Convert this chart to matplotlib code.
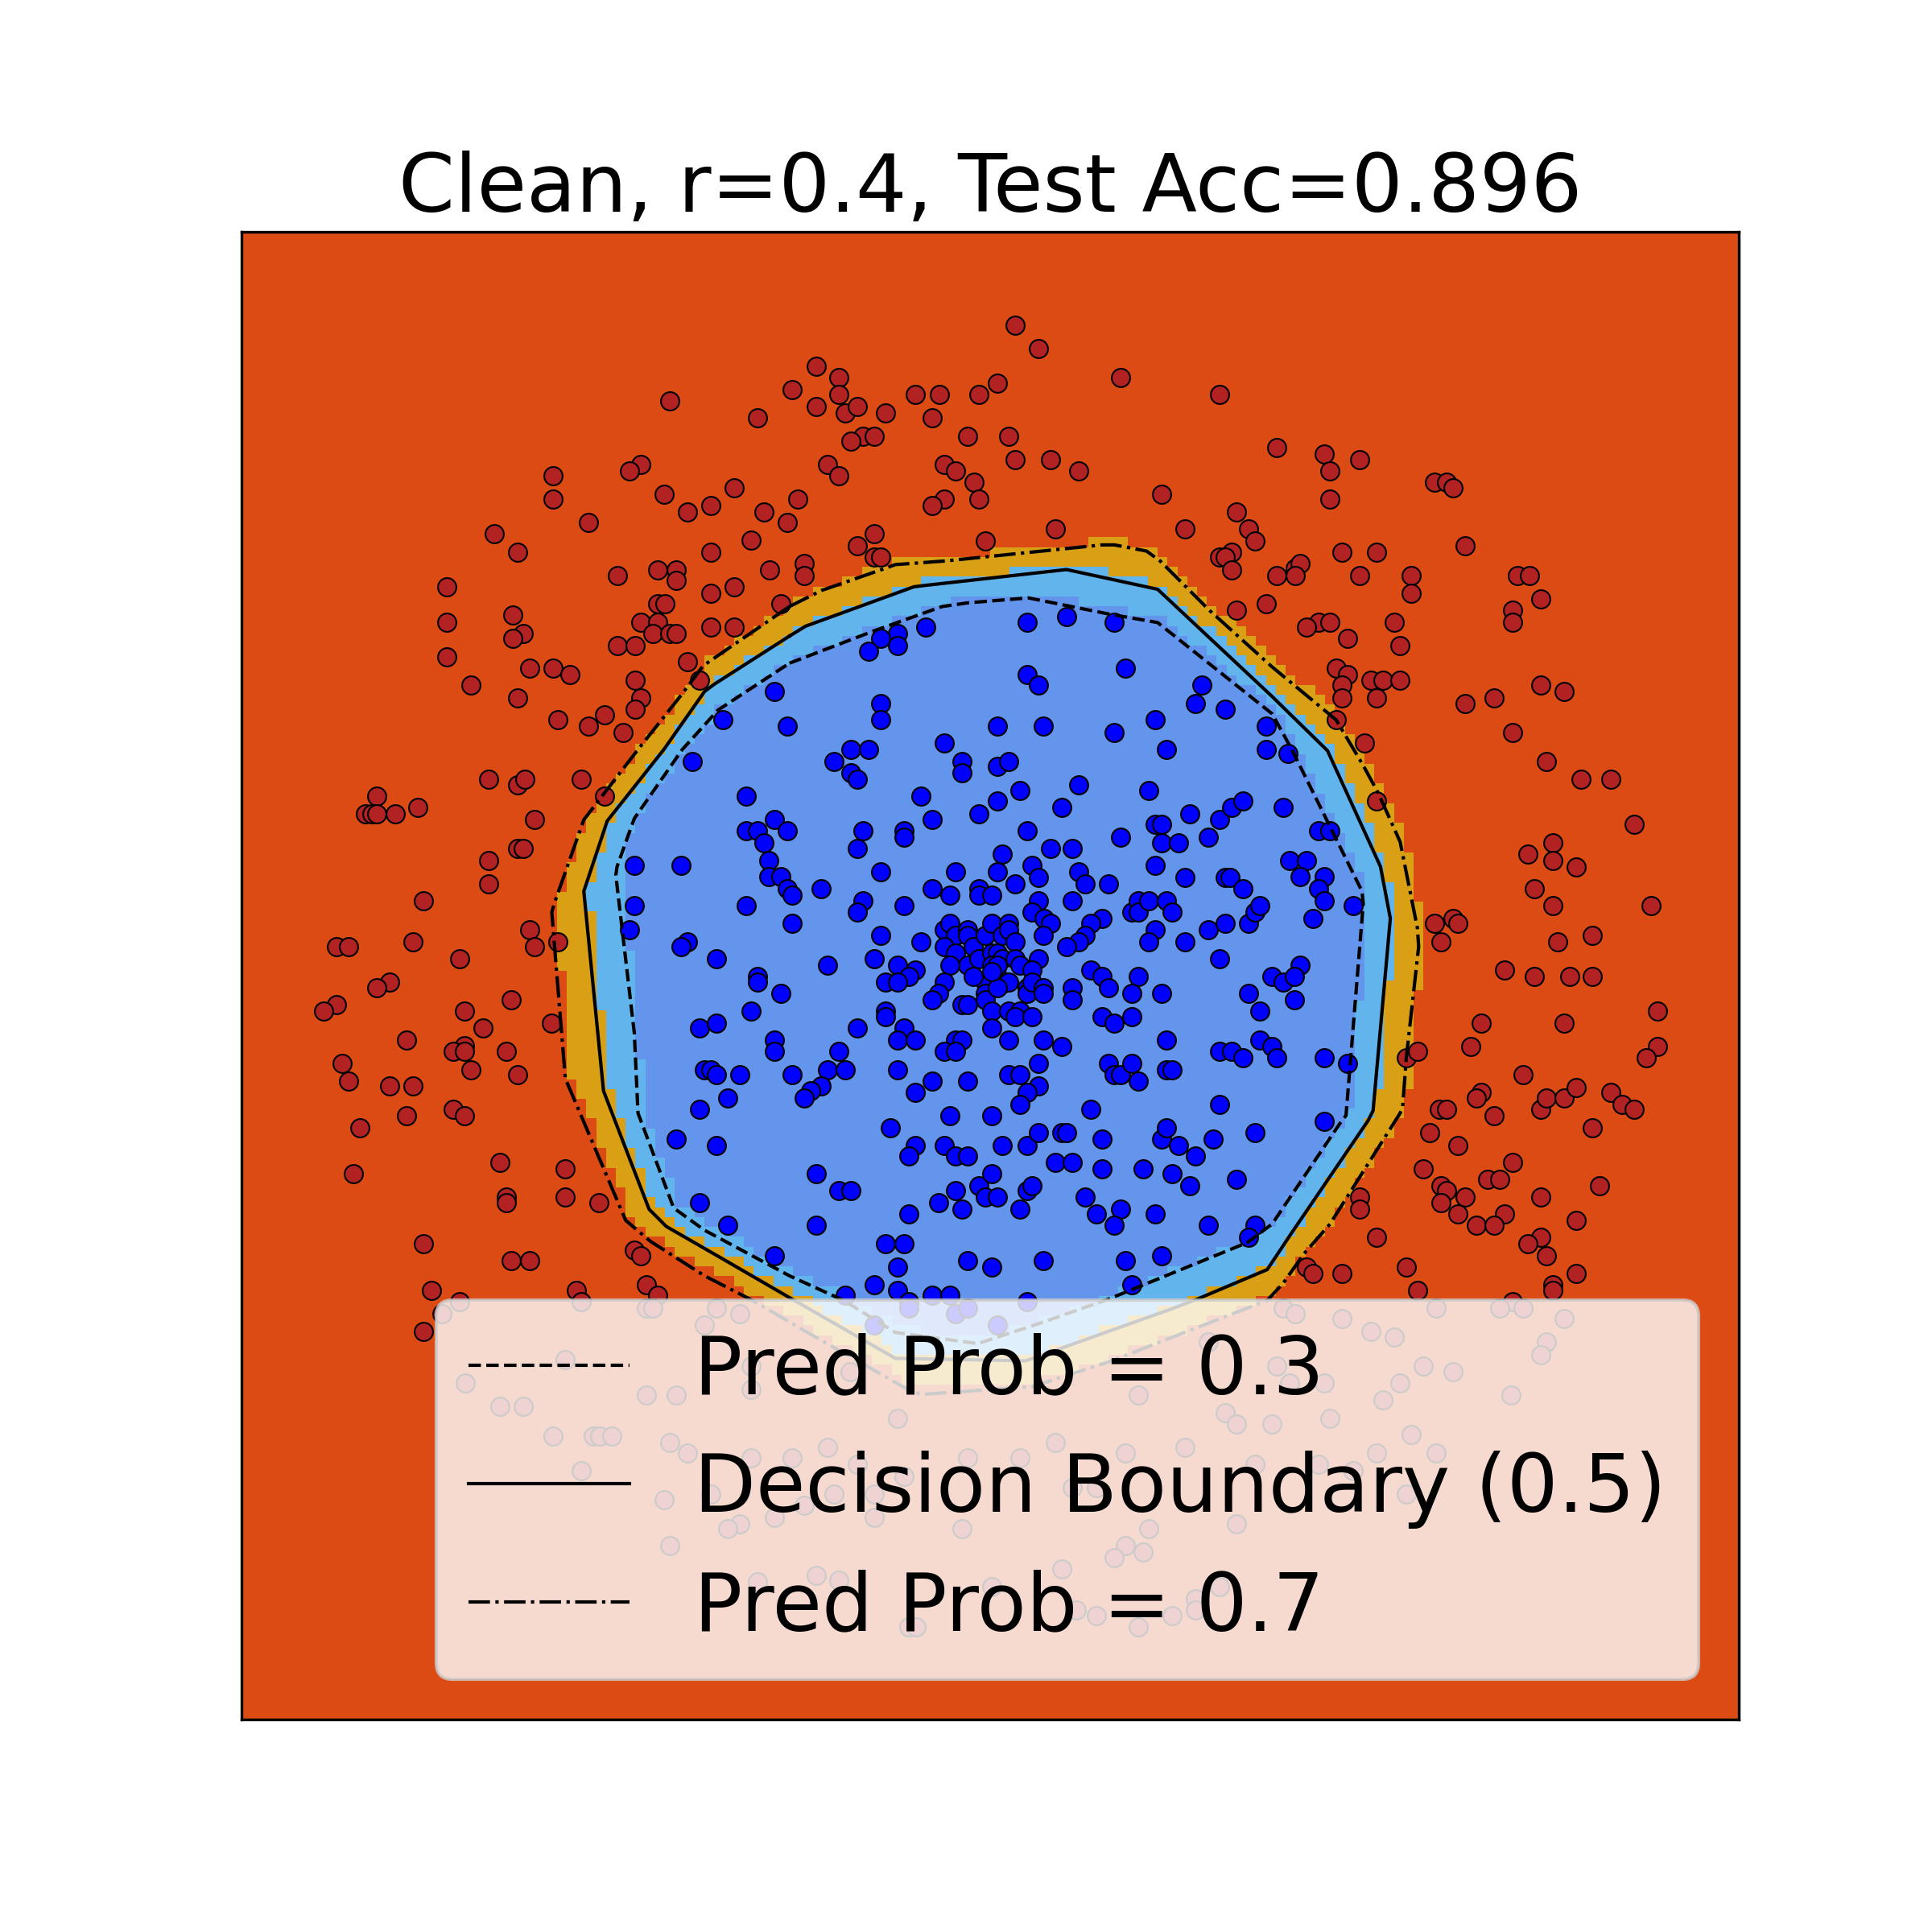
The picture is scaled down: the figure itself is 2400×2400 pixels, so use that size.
import numpy as np
import matplotlib
matplotlib.use('Agg')
from matplotlib import pyplot as plt
from matplotlib.colors import ListedColormap
from matplotlib.path import Path

# data space: x 195..1411 to the right, y 188..1395 downwards
x_range = (195, 1411)
y_range = (188, 1395)

# outer class (label 0)
red_pts = [
    (543, 325), (642, 316), (614, 339), (519, 377), (510, 382), (448, 386), (448, 405), (538, 401),
    (557, 415), (576, 410), (595, 396), (619, 415), (638, 424), (477, 424), (400, 433), (419, 448),
    (576, 448), (609, 438), (624, 462), (500, 467), (533, 462), (548, 462), (548, 471), (576, 481),
    (595, 476), (633, 490), (533, 490), (539, 490), (362, 476), (362, 505), (362, 533), (415, 499),
    (424, 514), (415, 518), (519, 505), (533, 505), (529, 514), (543, 514), (548, 514), (576, 509),
    (595, 509), (500, 524), (515, 524), (557, 537), (567, 552), (429, 542), (448, 542), (462, 547),
    (381, 556), (419, 566), (515, 552), (519, 566), (515, 575), (490, 580), (452, 584), (477, 589),
    (505, 594),
    (823, 264), (842, 283), (662, 297), (680, 306), (680, 320), (662, 330), (685, 335), (695, 330),
    (718, 335), (742, 320), (762, 320), (794, 320), (809, 311), (909, 306), (989, 320), (756, 339),
    (700, 354), (709, 354), (690, 358), (785, 354), (818, 354), (1036, 363), (671, 377), (680, 386),
    (766, 377), (775, 382), (790, 391), (823, 373), (852, 373), (875, 382), (647, 405), (766, 405),
    (756, 410), (794, 405), (942, 401), (1003, 415), (961, 429), (1013, 429), (1018, 439), (856, 429),
    (799, 439), (709, 433), (695, 443), (709, 452), (714, 452), (652, 457), (652, 467), (989, 452),
    (999, 448), (994, 452), (999, 462), (1036, 467), (1027, 490), (1003, 495),
    (1074, 368), (1103, 373), (1079, 382), (1079, 405), (1164, 391), (1174, 391), (1179, 396),
    (1189, 443), (1089, 448), (1117, 448), (1051, 461), (1055, 457), (1051, 467), (1103, 467),
    (1145, 467), (1145, 481), (1231, 467), (1241, 467), (1250, 486), (1227, 495), (1227, 505),
    (1070, 505), (1079, 505), (1060, 509), (1093, 518), (1131, 505), (1136, 524), (1084, 542),
    (1093, 547), (1089, 556), (1089, 566), (1112, 552), (1122, 552), (1136, 552), (1117, 566),
    (1189, 571), (1212, 566), (1250, 556), (1269, 561), (1084, 584), (1227, 594), (1107, 603),
    (396, 632), (419, 637), (425, 632), (471, 632), (490, 646), (305, 646), (296, 660), (301, 660),
    (305, 660), (320, 660), (338, 655), (433, 665), (419, 688), (424, 688), (396, 698), (396, 717),
    (343, 731), (429, 754), (433, 768), (452, 764), (272, 768), (282, 768), (334, 764), (372, 778),
    (315, 797), (305, 801), (272, 815), (262, 820), (414, 811), (376, 820), (391, 834), (447, 830),
    (329, 844), (376, 848), (367, 853), (376, 853), (410, 853), (277, 863), (381, 868), (419, 872),
    (282, 877), (315, 881), (334, 881), (367, 900), (376, 905), (329, 905), (291, 915), (405, 943),
    (458, 948), (286, 952), (410, 971), (410, 976), (458, 971), (485, 976),
    (1255, 618), (1283, 632), (1307, 632), (1117, 650), (1326, 669), (1260, 684), (1240, 693),
    (1260, 698), (1279, 703), (1245, 721), (1260, 735), (1340, 735), (1164, 749), (1179, 745),
    (1183, 749), (1169, 764), (1264, 764), (1292, 759), (1221, 787), (1245, 792), (1274, 792),
    (1292, 792), (1345, 820), (1202, 830), (1269, 830), (1193, 849), (1141, 858), (1150, 853),
    (1345, 849), (1336, 858), (1236, 872), (1202, 886), (1198, 891), (1168, 900), (1174, 900),
    (1212, 905), (1250, 900), (1255, 891), (1269, 891), (1279, 882), (1307, 886), (1316, 896),
    (1326, 900), (1292, 915), (1160, 919), (1183, 929), (1155, 948), (1227, 943), (1207, 957),
    (1217, 957), (1169, 962), (1174, 966), (1169, 976), (1189, 971), (1103, 971), (1103, 981),
    (1183, 985), (1221, 985), (1250, 971), (1298, 962),
    (343, 1009), (414, 1023), (429, 1023), (349, 1047), (372, 1056), (358, 1066), (343, 1080),
    (467, 1047), (471, 1056), (514, 1014), (519, 1019), (524, 1042), (533, 1051), (524, 1061),
    (529, 1061), (581, 1061), (600, 1066), (571, 1075), (458, 1103), (377, 1122), (405, 1141),
    (424, 1141), (524, 1132), (548, 1132), (609, 1108), (609, 1127), (448, 1165), (481, 1165),
    (486, 1165), (496, 1165), (543, 1170), (557, 1179), (609, 1183), (642, 1183), (471, 1193),
    (538, 1217), (576, 1212), (600, 1236), (590, 1240), (628, 1231), (543, 1254), (614, 1283),
    (689, 1113), (923, 1132), (980, 1089), (1036, 1108), (728, 1151), (994, 1146), (1003, 1155),
    (1032, 1155), (671, 1174), (856, 1170), (913, 1179), (961, 1174), (695, 1188), (785, 1183),
    (827, 1183), (1018, 1188), (733, 1198), (676, 1212), (709, 1212), (652, 1221), (709, 1231),
    (870, 1207), (889, 1207), (780, 1240), (932, 1240), (1003, 1236), (913, 1254), (927, 1259),
    (904, 1264), (662, 1278), (680, 1282), (804, 1287), (861, 1273), (873, 1306), (889, 1311),
    (951, 1311), (989, 1287), (970, 1297), (970, 1306), (737, 1320), (743, 1320), (923, 1320),
    (1198, 994), (1212, 994), (1279, 990), (1250, 1004), (1240, 1009), (1255, 1019), (1279, 1033),
    (1260, 1042), (1260, 1047), (1117, 1004), (1060, 1028), (1065, 1033), (1089, 1033), (1141, 1028),
    (1150, 1047), (1227, 1056), (1041, 1061), (1051, 1066), (1089, 1070), (1112, 1080), (1131, 1085),
    (1165, 1061), (1217, 1061), (1236, 1061), (1269, 1070), (1255, 1089), (1250, 1099), (1046, 1122),
    (1074, 1122), (1155, 1108), (1179, 1113), (1136, 1122), (1122, 1136), (1226, 1132), (1079, 1151),
    (1145, 1164), (1117, 1179), (1165, 1179), (1070, 1188), (1098, 1193), (1141, 1212),
]

# inner class (label 1)
blue_pts = [
    (628, 561), (586, 584), (638, 589),
    (751, 509), (728, 514), (714, 518), (728, 524), (704, 528), (833, 505), (865, 500), (904, 505),
    (913, 542), (833, 547), (842, 556), (975, 556), (970, 571), (994, 575), (714, 571), (714, 584),
    (809, 589), (846, 589), (904, 594), (937, 584), (1027, 589), (1027, 608), (946, 608), (766, 603),
    (690, 608), (704, 608), (1045, 611),
    (561, 618), (605, 646), (628, 665), (605, 674), (614, 674), (638, 674), (619, 684), (623, 698),
    (623, 711), (633, 711), (638, 721), (642, 726), (514, 702), (552, 702), (514, 735), (605, 735),
    (642, 749), (510, 754), (557, 764), (552, 768), (581, 778), (614, 792), (614, 797), (633, 806),
    (609, 820), (567, 834), (581, 830), (628, 844), (628, 853), (571, 868), (576, 868), (581, 872),
    (600, 872), (642, 872), (590, 891), (567, 900), (548, 924), (581, 929), (567, 976),
    (676, 618), (690, 627), (695, 632), (780, 618), (780, 627), (809, 622), (818, 618), (747, 646),
    (756, 665), (794, 660), (809, 650), (827, 641), (875, 637), (861, 655), (932, 641), (965, 660),
    (989, 665), (999, 655), (1008, 650), (700, 674), (695, 688), (733, 674), (733, 679), (833, 674),
    (909, 679), (937, 669), (942, 669), (942, 684), (956, 684), (980, 679), (852, 688), (870, 688),
    (813, 693), (714, 707), (775, 707), (809, 707), (837, 702), (842, 712), (823, 717), (875, 707),
    (880, 717), (899, 717), (937, 702), (961, 712), (994, 712), (998, 712), (1008, 721), (666, 721),
    (700, 731), (695, 740), (733, 735), (756, 721), (770, 726), (794, 721), (794, 726), (804, 726),
    (842, 731), (837, 740), (847, 745), (852, 749), (846, 759), (870, 731), (894, 745), (885, 749),
    (880, 759), (875, 764), (865, 768), (918, 740), (923, 731), (923, 740), (932, 731), (946, 731),
    (951, 740), (937, 754), (932, 764), (961, 764), (980, 754), (994, 749), (1013, 749), (1018, 740),
    (1022, 735), (989, 778), (714, 759), (747, 764), (671, 783), (709, 778), (728, 783), (742, 787),
    (737, 792), (718, 797), (728, 797),
    (766, 754), (770, 749), (775, 759), (785, 754), (785, 759), (789, 768), (799, 759), (804, 749),
    (813, 759), (818, 749), (818, 754), (823, 764), (766, 768), (775, 773), (785, 783), (770, 783),
    (794, 778), (804, 773), (809, 773), (804, 783), (813, 778), (823, 778), (827, 783), (842, 778),
    (837, 787), (809, 792), (813, 798), (818, 797), (799, 797), (789, 792), (766, 797), (761, 806),
    (756, 811), (799, 806), (799, 811), (809, 801), (833, 801), (833, 806), (837, 797), (846, 801),
    (846, 806), (780, 815), (785, 815), (804, 820), (818, 820), (827, 820), (823, 825), (837, 825),
    (804, 834), (818, 844), (809, 783), (804, 788),
    (870, 801), (870, 811), (885, 787), (894, 792), (899, 801), (923, 792), (918, 806), (942, 806),
    (894, 825), (904, 830), (918, 825), (1013, 806), (1022, 820), (1032, 792), (718, 820), (718, 825),
    (695, 834), (733, 834), (728, 844), (742, 844), (775, 844), (780, 844), (766, 853), (775, 853),
    (846, 844), (861, 849), (946, 844), (680, 853), (671, 868), (685, 868), (666, 881), (657, 885),
    (652, 891), (728, 868), (756, 877), (742, 886), (785, 877), (818, 872), (827, 872), (842, 863),
    (842, 881), (833, 886), (827, 896), (899, 863), (904, 872), (909, 872), (918, 863), (923, 877),
    (946, 868), (951, 868), (989, 853), (999, 853), (1008, 858), (1022, 844), (1032, 849), (1036, 858),
    (989, 896), (885, 900), (770, 905), (804, 905), (722, 915), (742, 929), (737, 938), (766, 929),
    (775, 938), (785, 938), (813, 929), (833, 929), (842, 919), (861, 919), (865, 919), (894, 924),
    (856, 943), (870, 943), (894, 948), (927, 948), (942, 924), (946, 915), (956, 929), (970, 938),
    (984, 924), (1018, 919), (951, 952), (965, 962), (1003, 957), (662, 952), (680, 966), (690, 966),
    (737, 985), (761, 976), (775, 966), (780, 981), (794, 962), (804, 952), (799, 971), (809, 971),
    (827, 981), (833, 966), (837, 962), (880, 971), (889, 985), (909, 981), (937, 985),
    (1041, 655), (1070, 674), (1079, 674), (1046, 698), (1060, 698), (1055, 711), (1074, 711),
    (1070, 721), (1074, 731), (1065, 745), (1098, 735), (1055, 783), (1041, 797), (1050, 792),
    (1050, 811), (1074, 858), (1093, 863), (1074, 910),
    (590, 994), (628, 1019),
    (662, 994), (904, 994), (980, 994), (1018, 994), (1013, 1004), (718, 1009), (733, 1009),
    (728, 1028), (785, 1023), (804, 1028), (846, 1023), (913, 1023), (942, 1019), (918, 1042),
    (709, 1042), (728, 1047), (685, 1051), (737, 1056), (756, 1051), (770, 1051), (833, 1056),
    (737, 1061), (775, 1066), (785, 1061), (709, 1075), (809, 1075),
]

# contour outlines of the predicted probability
level_03 = [
    (640, 538), (708, 512), (764, 492), (785, 489), (834, 485), (899, 498), (939, 505), (1032, 579),
    (1048, 608), (1105, 723), (1106, 733), (1092, 905), (1088, 910), (1032, 993), (1012, 1008),
    (899, 1054), (842, 1074), (793, 1090), (726, 1081), (684, 1055), (640, 1035), (571, 998),
    (546, 980), (517, 903), (514, 838), (499, 710), (500, 703), (514, 664), (553, 608), (582, 576),
]
level_05 = [
    (640, 516), (653, 508), (741, 476), (749, 475), (865, 462), (939, 478), (1032, 565), (1077, 609),
    (1120, 703), (1128, 745), (1114, 901), (1110, 909), (1048, 1000), (1028, 1030), (971, 1054),
    (950, 1062), (832, 1104), (726, 1102), (644, 1055), (587, 1022), (540, 995), (526, 981),
    (489, 885), (473, 723), (492, 666), (538, 608), (571, 561), (579, 555),
]
level_07 = [
    (640, 492), (666, 479), (715, 462), (726, 458), (767, 455), (894, 442), (904, 442), (930, 447),
    (941, 455), (981, 495), (1032, 541), (1084, 584), (1106, 621), (1118, 643), (1136, 683),
    (1150, 753), (1151, 768), (1141, 858), (1138, 898), (1136, 903), (1079, 993), (1058, 1017),
    (1041, 1041), (1028, 1055), (899, 1105), (837, 1125), (751, 1131), (741, 1130), (653, 1080),
    (610, 1055), (571, 1035), (527, 1007), (507, 990), (458, 875), (447, 740), (449, 733),
    (473, 665), (517, 608), (552, 564), (570, 540),
]

region_colors = ['#DB4B13', '#DAA015', '#62B4EC', '#6495ED']

fig, ax = plt.subplots(figsize=(8, 8), dpi=300)

# filled probability map on a coarse grid
xe = np.linspace(x_range[0], x_range[1], 153)
ye = np.linspace(y_range[0], y_range[1], 152)
gx, gy = np.meshgrid(xe[:-1], ye[1:])
pts = np.column_stack([gx.ravel(), gy.ravel()])
zone = np.zeros(len(pts))
for poly in (level_07, level_05, level_03):
    zone += Path(np.array(poly)).contains_points(pts)
zone = zone.reshape(gx.shape)
ax.pcolormesh(xe, ye, zone, cmap=ListedColormap(region_colors), vmin=-0.5, vmax=3.5,
              shading='flat', zorder=0)

red = np.array(red_pts)
blue = np.array(blue_pts)
ax.scatter(red[:, 0], red[:, 1], c='firebrick', s=30, edgecolors='black', linewidths=0.5, zorder=2)
ax.scatter(blue[:, 0], blue[:, 1], c='blue', s=30, edgecolors='black', linewidths=0.5, zorder=2)

for poly, ls, lab in [(level_03, '--', 'Pred Prob = 0.3'),
                      (level_05, '-', 'Decision Boundary (0.5)'),
                      (level_07, '-.', 'Pred Prob = 0.7')]:
    p = np.array(poly + [poly[0]])
    ax.plot(p[:, 0], p[:, 1], color='black', linestyle=ls, linewidth=1, label=lab, zorder=3)

ax.set_xlim(*x_range)
ax.set_ylim(y_range[1], y_range[0])
ax.set_xticks([])
ax.set_yticks([])
ax.set_title('Clean, r=0.4, Test Acc=0.896', fontsize=24)
ax.legend(loc='lower right', fontsize=24)

plt.savefig('out.png')
plt.close()
